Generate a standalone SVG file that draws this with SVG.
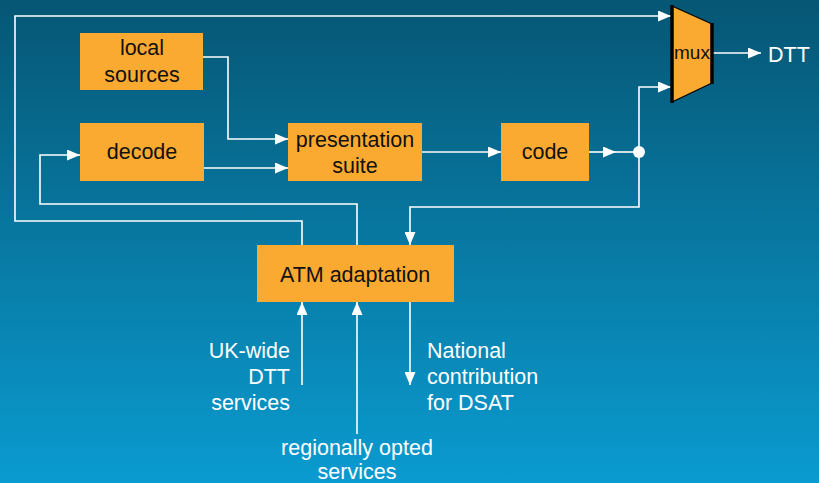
<svg xmlns="http://www.w3.org/2000/svg" width="819" height="483" viewBox="0 0 819 483">
  <defs>
    <linearGradient id="bg" x1="0" y1="0" x2="0" y2="1">
      <stop offset="0" stop-color="#065674"/>
      <stop offset="1" stop-color="#0a9bd0"/>
    </linearGradient>
    <marker id="arrow" viewBox="0 0 13 11" refX="13" refY="5.5" markerWidth="13" markerHeight="11" markerUnits="userSpaceOnUse" orient="auto">
      <path d="M0,0 L13,5.5 L0,11 z" fill="#ffffff"/>
    </marker>
    <style>
      .box { fill: #fbaa31; }
      .lbl { font-family: "Liberation Sans", Arial, sans-serif; font-size: 21.5px; fill: #111111; text-anchor: middle; }
      .wt { font-family: "Liberation Sans", Arial, sans-serif; font-size: 21.5px; fill: #ffffff; }
      .wire { fill: none; stroke: #ffffff; stroke-width: 1.6; }
      .arr { marker-end: url(#arrow); }
    </style>
  </defs>

  <rect x="0" y="0" width="819" height="483" fill="url(#bg)"/>

  <!-- connectors -->
  <g id="connectors">
    <path class="wire arr" d="M302,245 V221 H15 V16 H671"/>
    <path class="wire arr" d="M357,245 V204 H40 V155 H80"/>
    <path class="wire arr" d="M203,57 H228 V139 H288"/>
    <path class="wire arr" d="M204,168 H288"/>
    <path class="wire arr" d="M422,152 H501"/>
    <path class="wire arr" d="M589,152 H616"/>
    <path class="wire" d="M616,152 H639"/>
    <circle cx="639" cy="152" r="6" fill="#ffffff"/>
    <path class="wire arr" d="M639,152 V87 H671"/>
    <path class="wire arr" d="M639,152 V207 H410 V245"/>
    <path class="wire arr" d="M713,53 H761"/>
    <path class="wire arr" d="M302,385 V302"/>
    <path class="wire arr" d="M357,434 V302"/>
    <path class="wire arr" d="M410,302 V385"/>
  </g>

  <g id="local-sources">
    <rect class="box" x="80" y="33" width="123" height="57"/>
    <text class="lbl" x="142" y="55">local</text>
    <text class="lbl" x="142" y="82">sources</text>
  </g>

  <g id="decode">
    <rect class="box" x="80" y="123" width="124" height="58"/>
    <text class="lbl" x="142" y="159">decode</text>
  </g>

  <g id="presentation-suite">
    <rect class="box" x="288" y="123" width="134" height="58"/>
    <text class="lbl" x="355" y="147">presentation</text>
    <text class="lbl" x="355" y="173">suite</text>
  </g>

  <g id="code">
    <rect class="box" x="501" y="123" width="88" height="58"/>
    <text class="lbl" x="545" y="159">code</text>
  </g>

  <g id="atm-adaptation">
    <rect class="box" x="257" y="245" width="197" height="57"/>
    <text class="lbl" x="355" y="282">ATM adaptation</text>
  </g>

  <g id="mux">
    <polygon points="672,6 712,24 712,83 672,102" fill="#fbaa31"/>
    <line x1="672" y1="5" x2="672" y2="103" stroke="#000000" stroke-width="3.5"/>
    <line x1="712" y1="23" x2="712" y2="84" stroke="#000000" stroke-width="3.5"/>
    <path d="M672,6 L712,24 M672,102 L712,83" stroke="#000000" stroke-width="1.2" fill="none"/>
    <text class="lbl" x="692" y="59" style="font-size:19px">mux</text>
  </g>

  <g id="labels">
    <text class="wt" x="768" y="62">DTT</text>
    <text class="wt" x="290" y="358" text-anchor="end">UK-wide</text>
    <text class="wt" x="290" y="384" text-anchor="end">DTT</text>
    <text class="wt" x="290" y="410" text-anchor="end">services</text>
    <text class="wt" x="427" y="358">National</text>
    <text class="wt" x="427" y="384">contribution</text>
    <text class="wt" x="427" y="410">for DSAT</text>
    <text class="wt" x="357" y="455" text-anchor="middle">regionally opted</text>
    <text class="wt" x="357" y="479" text-anchor="middle">services</text>
  </g>
</svg>
